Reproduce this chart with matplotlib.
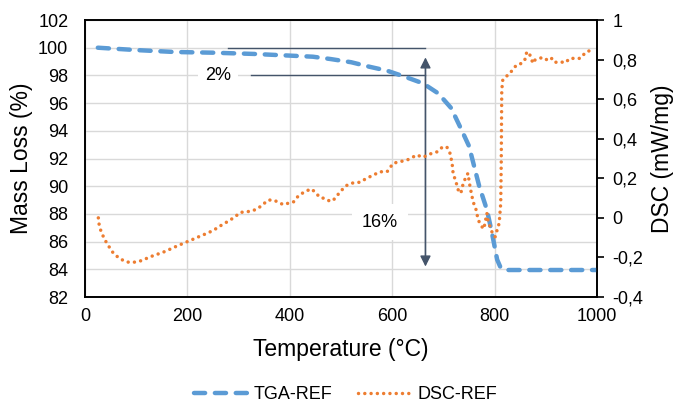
import matplotlib.pyplot as plt

plt.rcParams['font.family'] = ['Liberation Sans', 'DejaVu Sans']

# TGA curve (left axis, mass %)
tga_temp = [25, 100, 175, 250, 330, 405, 445, 480, 520, 555, 590, 625, 660, 690,
            715, 735, 750, 770, 785, 795, 805, 812, 820, 900, 1000]
tga_mass = [100.0, 99.83, 99.69, 99.64, 99.55, 99.42, 99.35, 99.18, 98.95, 98.63,
            98.34, 97.9, 97.43, 96.7, 95.65, 94.1, 92.9, 90.0, 88.3, 86.6, 84.7,
            84.1, 83.95, 83.95, 83.95]

# DSC curve (right axis, mW/mg)
dsc_temp = [26, 27, 31, 38, 47, 56, 68, 81, 94, 109, 122, 135, 147, 160, 171, 183,
            195, 205, 217, 229, 241, 252, 262, 273, 283, 293, 304, 314, 326, 337,
            348, 358, 368, 378, 387, 397, 407, 417, 426, 435, 443, 451, 460, 469,
            477, 484, 492, 499, 506, 514, 524, 537, 550, 563, 576, 590, 602, 615,
            629, 641, 648, 660, 674, 688, 699, 707, 713, 717, 719, 725, 729, 734,
            738, 744, 748, 752, 758, 764, 768, 775, 779, 785, 787, 791, 797, 801,
            805, 809, 812, 813, 814, 816, 822, 830, 836, 843, 853, 859, 863, 869,
            875, 879, 887, 895, 905, 912, 918, 928, 938, 947, 957, 967, 973, 980,
            986, 994]
dsc_val = [0.0, -0.027, -0.066, -0.108, -0.146, -0.181, -0.206, -0.223, -0.225,
           -0.217, -0.203, -0.189, -0.179, -0.166, -0.152, -0.139, -0.125, -0.115,
           -0.101, -0.088, -0.075, -0.061, -0.044, -0.027, -0.012, 0.006, 0.028,
           0.03, 0.035, 0.046, 0.069, 0.09, 0.09, 0.079, 0.067, 0.074, 0.08, 0.112,
           0.127, 0.139, 0.146, 0.124, 0.102, 0.098, 0.086, 0.086, 0.112, 0.132,
           0.154, 0.169, 0.177, 0.18, 0.2, 0.216, 0.233, 0.233, 0.276, 0.284, 0.292,
           0.308, 0.318, 0.306, 0.323, 0.334, 0.36, 0.357, 0.326, 0.276, 0.225,
           0.178, 0.141, 0.124, 0.166, 0.208, 0.225, 0.158, 0.082, 0.04, -0.011,
           -0.044, -0.056, 0.023, -0.011, -0.044, -0.086, -0.096, -0.061, -0.027,
           0.074, 0.28, 0.646, 0.697, 0.713, 0.731, 0.751, 0.773, 0.781, 0.798,
           0.84, 0.823, 0.781, 0.798, 0.806, 0.811, 0.794, 0.806, 0.786, 0.789,
           0.784, 0.806, 0.806, 0.806, 0.823, 0.84, 0.845, 0.862]

blue = '#5B9BD5'
orange = '#ED7D31'
note = '#44546A'
grid = '#D9D9D9'

fig = plt.figure(figsize=(6.78, 4.15), dpi=100)
ax = fig.add_axes([0.1254, 0.2843, 0.7551, 0.6675])
ax2 = ax.twinx()

l1, = ax.plot(tga_temp, tga_mass, color=blue, lw=3.2, linestyle=(0, (2.5, 2.2)),
              dash_capstyle='round', label='TGA-REF', zorder=3)
l2, = ax2.plot(dsc_temp, dsc_val, color=orange, lw=2.5, linestyle=(0, (0.01, 1.8)),
               dash_capstyle='round', label='DSC-REF', zorder=3)

ax.set_xlim(0, 1000)
ax.set_ylim(82, 102)
ax.set_xticks(range(0, 1001, 200))
ax.set_yticks(range(82, 103, 2))
ax2.set_ylim(-0.4, 1.0)
ax2.set_yticks([-0.4, -0.2, 0, 0.2, 0.4, 0.6, 0.8, 1.0])
ax2.set_yticklabels(['-0,4', '-0,2', '0', '0,2', '0,4', '0,6', '0,8', '1'])

ax.grid(True, color=grid, lw=1)
ax.set_axisbelow(True)
for a in (ax, ax2):
    for s in a.spines.values():
        s.set_color('black')
        s.set_linewidth(1.2)
ax.tick_params(axis='y', length=0, labelsize=13, pad=12)
ax.tick_params(axis='x', length=0, labelsize=13, pad=8)
ax2.tick_params(axis='y', direction='out', length=5, width=1.2, labelsize=13, pad=6)

ax.set_xlabel('Temperature (°C)', fontsize=16.5, labelpad=9)
ax.set_ylabel('Mass Loss (%)', fontsize=16.5, labelpad=4)
ax2.set_ylabel('DSC (mW/mg)', fontsize=16.5, labelpad=6)

# annotations
ax.plot([280, 665], [100, 100], color=note, lw=1, zorder=2)
ax.plot([325, 665], [98, 98], color=note, lw=1, zorder=2)
ax.annotate('', xy=(665, 99.5), xytext=(665, 84.3),
            arrowprops=dict(arrowstyle='-|>', color=note, lw=1, mutation_scale=16))
ax.annotate('', xy=(665, 84.0), xytext=(665, 99.0),
            arrowprops=dict(arrowstyle='-|>', color=note, lw=1, mutation_scale=16))
ax.text(260, 98, '2%', fontsize=13, ha='center', va='center', zorder=2,
        bbox=dict(facecolor='white', edgecolor='none', pad=5))
ax.text(576, 87.4, '16%', fontsize=13, ha='center', va='center', zorder=2,
        bbox=dict(facecolor='white', edgecolor='none', pad=7))

fig.legend(handles=[l1, l2], loc='lower center', bbox_to_anchor=(0.51, -0.01),
           ncol=2, frameon=False, fontsize=13, handlelength=3.0,
           handletextpad=0.3, columnspacing=1.4)

fig.savefig('out.png', dpi=100)
